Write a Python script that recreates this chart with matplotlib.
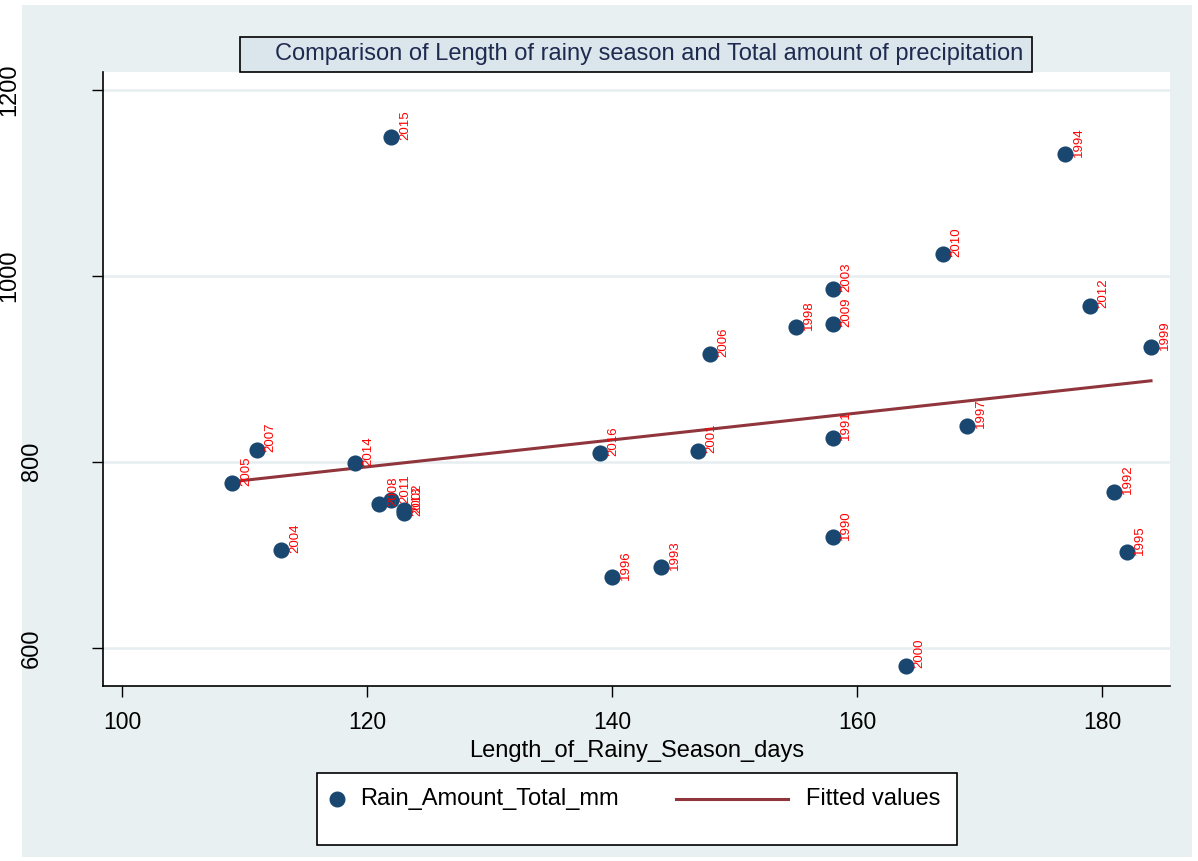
import numpy as np
import matplotlib
matplotlib.use("Agg")
import matplotlib.pyplot as plt
from matplotlib.patches import Rectangle
from matplotlib.lines import Line2D
from matplotlib.transforms import blended_transform_factory

plt.rcParams['font.family'] = ['Liberation Sans', 'DejaVu Sans']

# data
years = [1990, 1991, 1992, 1993, 1994, 1995, 1996, 1997, 1998, 1999,
         2000, 2001, 2002, 2003, 2004, 2005, 2006, 2007, 2008, 2009,
         2010, 2011, 2012, 2013, 2014, 2015, 2016]
season_days = [158, 158, 181, 144, 177, 182, 140, 169, 155, 184,
               164, 147, 123, 158, 113, 109, 148, 111, 121, 158,
               167, 122, 179, 123, 119, 122, 139]
rain_mm = [719, 826, 768, 687, 1131, 703, 676, 839, 945, 923,
           581, 812, 748, 986, 705, 777, 916, 813, 755, 948,
           1023, 759, 968, 745, 799, 1149, 809]

x_ticks = [100, 120, 140, 160, 180]
y_ticks = [600, 800, 1000, 1200]

navy = '#1A476F'
maroon = '#90353B'
panel = '#E8F0F2'
W, H = 1198, 861

fig = plt.figure(figsize=(W / 100, H / 100), dpi=100)
fig.patch.set_facecolor('white')

# light graph region
fig.add_artist(Rectangle((22 / W, 1 - 857 / H), (1192 - 22) / W, (857 - 5) / H,
                         transform=fig.transFigure, facecolor=panel,
                         edgecolor='none', zorder=0))

ax = fig.add_axes([103 / W, 1 - 686 / H, (1170 - 103) / W, (686 - 72) / H])
ax.set_facecolor('white')
ax.set_xlim(98.45, 185.55)
ax.set_ylim(559, 1219)

for sp in ['top', 'right']:
    ax.spines[sp].set_visible(False)
for sp in ['left', 'bottom']:
    ax.spines[sp].set_color('black')
    ax.spines[sp].set_linewidth(1.2)

ax.set_yticks(y_ticks)
ax.set_xticks(x_ticks)
ax.grid(axis='y', color='#E6EEF1', linewidth=1.8, zorder=0)
ax.tick_params(axis='both', direction='out', length=8, width=1, color='black')
ax.tick_params(axis='y', labelleft=False)
ax.tick_params(axis='x', labelsize=16.5, pad=10)

# y tick labels, rotated like the original
tr = blended_transform_factory(fig.transFigure, ax.transData)
for v in y_ticks:
    xr = 43 if v < 1000 else 20
    fig.text(xr / W, v, str(v), transform=tr, rotation=90,
             ha='right', va='center', fontsize=17)

ax.scatter(season_days, rain_mm, s=135, color=navy, zorder=3, linewidths=0)

for yr, xv, yv in zip(years, season_days, rain_mm):
    ax.annotate(str(yr), (xv, yv), xytext=(5.5, -2), textcoords='offset points',
                rotation=90, ha='left', va='bottom', fontsize=9.5,
                color='red', zorder=4)

# linear fit
slope, intercept = np.polyfit(season_days, rain_mm, 1)
xf = np.array([min(season_days), max(season_days)])
ax.plot(xf, intercept + slope * xf, color=maroon, linewidth=2.2, zorder=2)

ax.set_xlabel('Length_of_Rainy_Season_days', fontsize=17, labelpad=4)

# title box
fig.add_artist(Rectangle((240 / W, 1 - 72 / H), (1032 - 240) / W, (72 - 37) / H,
                         transform=fig.transFigure, facecolor='#DAE5EC',
                         edgecolor='black', linewidth=1.2, zorder=5))
fig.text(275 / W, 1 - 54 / H,
         'Comparison of Length of rainy season and Total amount of precipitation',
         ha='left', va='center', fontsize=17, color='#1E2B4F', zorder=6)

# legend
fig.add_artist(Rectangle((317 / W, 1 - 845 / H), (957 - 317) / W, (845 - 773) / H,
                         transform=fig.transFigure, facecolor='white',
                         edgecolor='black', linewidth=1.2, zorder=5))
ly = 1 - 799 / H
fig.add_artist(Line2D([337 / W], [ly], transform=fig.transFigure, marker='o',
                      markersize=10.5, color=navy, linestyle='none', zorder=6))
fig.text(360 / W, ly, 'Rain_Amount_Total_mm', ha='left', va='center',
         fontsize=17, zorder=6)
fig.add_artist(Line2D([676 / W, 788 / W], [ly, ly], transform=fig.transFigure,
                      color=maroon, linewidth=2.2, zorder=6))
fig.text(806 / W, ly, 'Fitted values', ha='left', va='center',
         fontsize=17, zorder=6)

fig.savefig('out.png', dpi=100)
